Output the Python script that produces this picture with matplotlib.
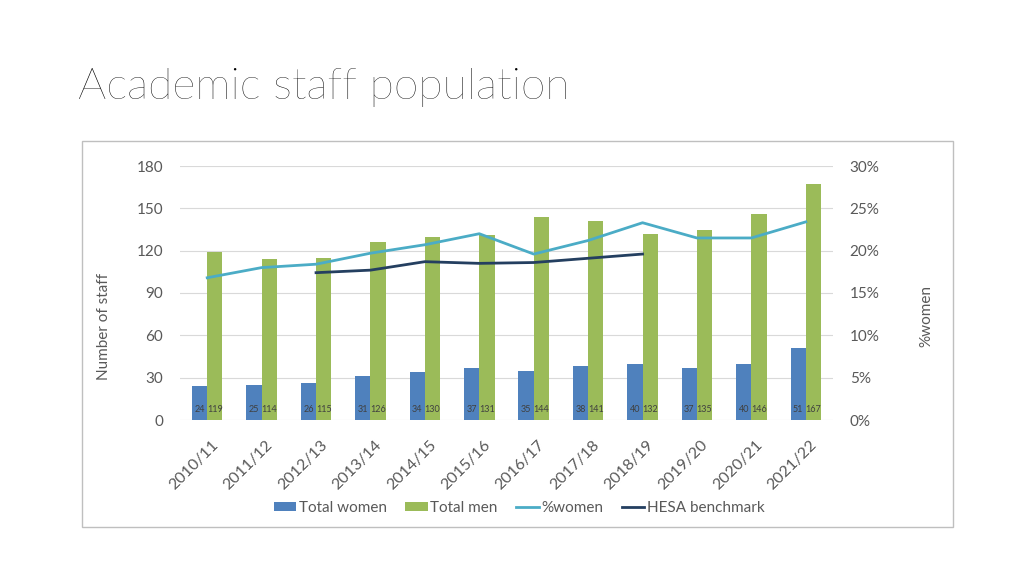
import matplotlib
matplotlib.use("Agg")
import matplotlib.pyplot as plt
import matplotlib.transforms as mtrans
import numpy as np
from matplotlib.patches import Rectangle
from matplotlib.ticker import FuncFormatter, MultipleLocator

plt.rcParams["font.family"] = ["Lato", "DejaVu Sans"]

YEARS = ["2010/11", "2011/12", "2012/13", "2013/14", "2014/15", "2015/16",
         "2016/17", "2017/18", "2018/19", "2019/20", "2020/21", "2021/22"]
WOMEN = [24, 25, 26, 31, 34, 37, 35, 38, 40, 37, 40, 51]
MEN = [119, 114, 115, 126, 130, 131, 144, 141, 132, 135, 146, 167]
PCT_WOMEN = [16.8, 18.0, 18.4, 19.7, 20.7, 22.0, 19.6, 21.2, 23.3, 21.5, 21.5, 23.4]
HESA = [None, None, 17.4, 17.7, 18.7, 18.5, 18.6, 19.1, 19.6, None, None, None]

BLUE = "#4F81BD"
GREEN = "#9BBB59"
TEAL = "#4BACC6"
NAVY = "#243F60"
GREY = "#595959"

W, H = 1024, 576
fig = plt.figure(figsize=(W / 100, H / 100), dpi=100)

# chart frame
fig.patches.append(Rectangle((82 / W, 1 - 527 / H), 871 / W, 386 / H,
                             transform=fig.transFigure, fill=False,
                             edgecolor="#BFBFBF", lw=1))

fig.text(78 / W, 1 - 99 / H, "Academic staff population", fontsize=32,
         fontweight="light", color="black", ha="left", va="baseline")

ax = fig.add_axes([180 / W, 1 - 420 / H, 653 / W, 254 / H])
x = np.arange(len(YEARS))
bw = 0.28
ax.bar(x - bw / 2, WOMEN, bw, color=BLUE, label="Total women", zorder=2)
ax.bar(x + bw / 2, MEN, bw, color=GREEN, label="Total men", zorder=2)
for i in range(len(YEARS)):
    for dx, v in ((-bw / 2, WOMEN[i]), (bw / 2, MEN[i])):
        ax.annotate(str(v), (x[i] + dx, 0), xytext=(0, 7.5), textcoords="offset points",
                    ha="center", va="center", fontsize=6.5, color="#404040", zorder=3)

ax.set_xlim(-0.5, len(YEARS) - 0.5)
ax.set_ylim(0, 180)
ax.yaxis.set_major_locator(MultipleLocator(30))
ax.grid(axis="y", color="#D9D9D9", lw=0.8, zorder=0)
ax.set_axisbelow(True)
for s in ax.spines.values():
    s.set_visible(False)
ax.tick_params(axis="both", length=0, labelsize=11, labelcolor=GREY)
ax.tick_params(axis="y", pad=12)
ax.set_xticks(x)
ax.set_xticklabels(YEARS, rotation=45, ha="right", rotation_mode="anchor", fontsize=11.5)
ax.tick_params(axis="x", pad=13)
shift = mtrans.ScaledTranslation(4 / 100, 0, fig.dpi_scale_trans)
for lab in ax.get_xticklabels():
    lab.set_transform(lab.get_transform() + shift)

ax2 = ax.twinx()
ax2.set_ylim(0, 30)
ax2.yaxis.set_major_locator(MultipleLocator(5))
ax2.yaxis.set_major_formatter(FuncFormatter(lambda v, p: f"{v:.0f}%"))
for s in ax2.spines.values():
    s.set_visible(False)
ax2.tick_params(axis="y", length=0, labelsize=11, labelcolor=GREY, pad=12)
ax2.plot(x, PCT_WOMEN, color=TEAL, lw=2, label="%women", zorder=4)
hesa = np.array([np.nan if v is None else v for v in HESA], dtype=float)
ax2.plot(x, hesa, color=NAVY, lw=2, label="HESA benchmark", zorder=4)

fig.text(104 / W, 1 - 327 / H, "Number of staff", rotation=90, ha="center",
         va="center", fontsize=11, color=GREY)
fig.text(926 / W, 1 - 316 / H, "%women", rotation=90, ha="center",
         va="center", fontsize=11, color=GREY)

h1, l1 = ax.get_legend_handles_labels()
h2, l2 = ax2.get_legend_handles_labels()
fig.legend(h1 + h2, l1 + l2, loc="center", bbox_to_anchor=(519 / W, 1 - 508 / H),
           ncol=4, frameon=False, fontsize=11, labelcolor=GREY,
           handlelength=1.5, handleheight=0.6, handletextpad=0.15, columnspacing=1.2)

fig.savefig("out.png", dpi=100)
